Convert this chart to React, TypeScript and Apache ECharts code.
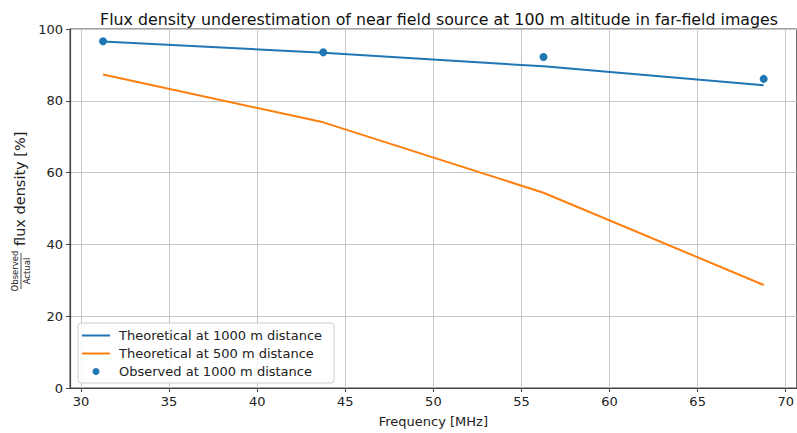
import React, { useEffect, useRef } from "react";
import * as echarts from "echarts";

const freqs = [31.25, 43.75, 56.25, 68.75];
const theo1000 = [96.5, 93.4, 89.6, 84.3];
const theo500 = [87.3, 74.0, 54.4, 28.7];
const obs1000 = [96.6, 93.5, 92.2, 86.1];
const xTicks = [30, 35, 40, 45, 50, 55, 60, 65, 70];

const FONT = "DejaVu Sans";
const LINE_ICON = "path://M0,0 L28,0 L28,2 L0,2 Z";

export default function App() {
  const ref = useRef<HTMLDivElement>(null);
  useEffect(() => {
    if (!ref.current) return;
    const chart = echarts.init(ref.current, null, { renderer: "svg" });
    const pair = (ys: number[]) => freqs.map((x, i) => [x, ys[i]]);
    chart.setOption({
      animation: false,
      backgroundColor: "#fff",
      textStyle: { fontFamily: FONT },
      title: {
        text: "Flux density underestimation of near field source at 100 m altitude in far-field images",
        left: 434,
        textAlign: "center",
        top: 6,
        textStyle: { fontFamily: FONT, fontSize: 15.8, fontWeight: "normal", color: "#111" },
      },
      grid: {
        left: 70,
        right: 0,
        top: 29,
        bottom: 41,
        show: true,
        borderColor: "#444",
        borderWidth: 1,
      },
      legend: {
        orient: "vertical",
        left: 78,
        top: 323,
        itemWidth: 28,
        itemHeight: 7,
        itemGap: 5,
        padding: [6, 12, 5, 4],
        backgroundColor: "rgba(255,255,255,0.85)",
        borderColor: "#ccc",
        borderWidth: 1,
        borderRadius: 3,
        textStyle: { fontFamily: FONT, fontSize: 13, color: "#222", padding: [0, 0, 0, 4] },
        data: [
          { name: "Theoretical at 1000 m distance", icon: LINE_ICON },
          { name: "Theoretical at 500 m distance", icon: LINE_ICON },
          { name: "Observed at 1000 m distance", icon: "circle" },
        ],
      },
      xAxis: {
        type: "value",
        min: 29.375,
        max: 70.625,
        name: "Frequency [MHz]",
        nameLocation: "middle",
        nameGap: 27,
        nameTextStyle: { fontFamily: FONT, fontSize: 13, color: "#222" },
        axisLine: { show: true, lineStyle: { color: "#444", width: 1.2 } },
        axisTick: { show: true, inside: false, length: 4, lineStyle: { color: "#444" }, customValues: xTicks },
        axisLabel: { fontFamily: FONT, fontSize: 13, color: "#222", margin: 7, customValues: xTicks },
        splitLine: { show: true, lineStyle: { color: "#c8c8c8", width: 1 } },
      },
      yAxis: {
        type: "value",
        min: 0,
        max: 100,
        interval: 20,
        axisLine: { show: true, lineStyle: { color: "#444", width: 1.2 } },
        axisTick: { show: true, inside: false, length: 4, lineStyle: { color: "#444" } },
        axisLabel: { fontFamily: FONT, fontSize: 13, color: "#222", margin: 7 },
        splitLine: { show: true, lineStyle: { color: "#c8c8c8", width: 1 } },
      },
      graphic: [
        {
          type: "group",
          x: 21,
          y: 210,
          rotation: Math.PI / 2,
          children: [
            {
              type: "text",
              x: -61,
              y: -1.5,
              style: { text: "Observed", fontFamily: FONT, fontSize: 8.5, fill: "#222", align: "center", verticalAlign: "bottom" },
            },
            {
              type: "line",
              shape: { x1: -79, y1: 0, x2: -43, y2: 0 },
              style: { stroke: "#222", lineWidth: 0.8 },
            },
            {
              type: "text",
              x: -61,
              y: 1,
              style: { text: "Actual", fontFamily: FONT, fontSize: 8.5, fill: "#222", align: "center", verticalAlign: "top" },
            },
            {
              type: "text",
              x: -36,
              y: -1,
              style: { text: "flux density [%]", fontFamily: FONT, fontSize: 14.5, fill: "#222", align: "left", verticalAlign: "middle" },
            },
          ],
        },
      ],
      series: [
        {
          name: "Theoretical at 1000 m distance",
          type: "line",
          data: pair(theo1000),
          symbol: "none",
          lineStyle: { color: "#1f77b4", width: 2 },
          itemStyle: { color: "#1f77b4" },
          z: 3,
        },
        {
          name: "Theoretical at 500 m distance",
          type: "line",
          data: pair(theo500),
          symbol: "none",
          lineStyle: { color: "#ff7f0e", width: 2 },
          itemStyle: { color: "#ff7f0e" },
          z: 3,
        },
        {
          name: "Observed at 1000 m distance",
          type: "scatter",
          data: pair(obs1000),
          symbol: "circle",
          symbolSize: 8,
          itemStyle: { color: "#1f77b4", opacity: 1 },
          z: 4,
        },
      ],
    });
    return () => chart.dispose();
  }, []);
  return <div ref={ref} style={{ width: 797, height: 433, position: "absolute", left: 0, top: 0 }} />;
}
